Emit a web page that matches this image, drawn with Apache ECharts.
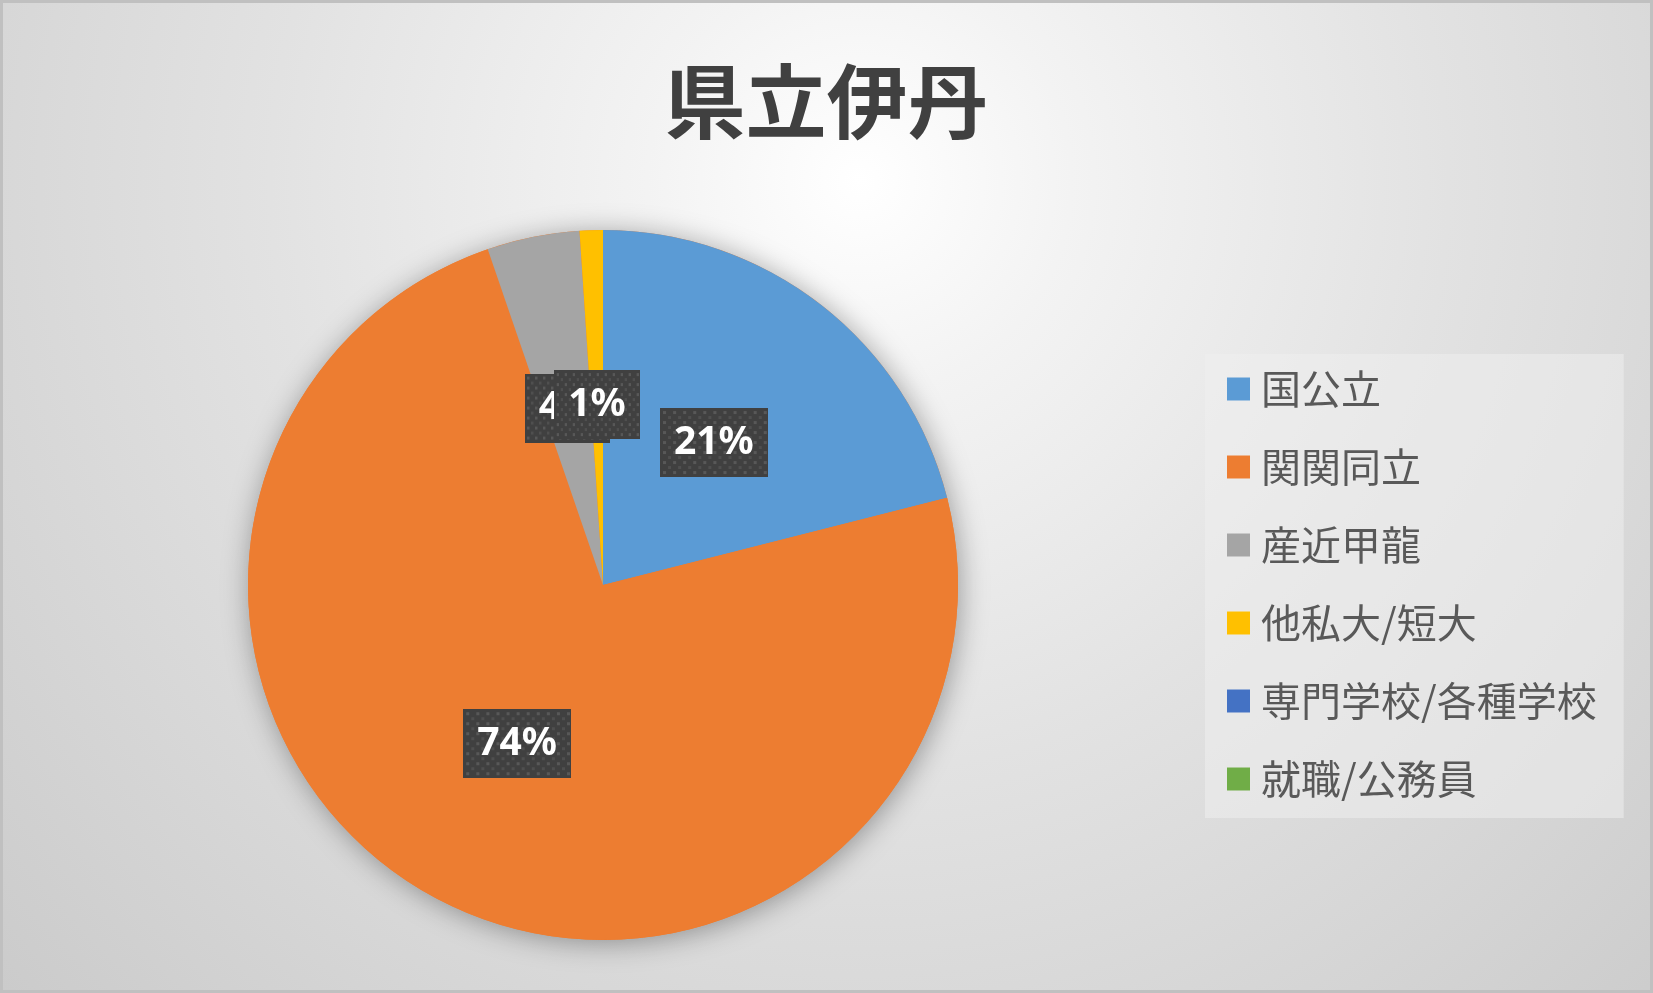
<!DOCTYPE html>
<html>
<head>
<meta charset="utf-8">
<script src="https://cdn.jsdelivr.net/npm/echarts@6/dist/echarts.min.js"></script>
<style>
html,body{margin:0;padding:0;width:1653px;height:993px;overflow:hidden;}
#chart{width:1653px;height:993px;box-sizing:border-box;border:3px solid #c0c0c0;
background:radial-gradient(circle farthest-corner at 52% 18%, #ffffff 0%, #f3f3f3 18%, #e2e2e2 50%, #cbcbcb 100%);}
</style>
</head>
<body>
<div id="chart"></div>
<script>
const titleText = '県立伊丹';
const categories = ['国公立', '関関同立', '産近甲龍', '他私大/短大', '専門学校/各種学校', '就職/公務員'];
const values = [20, 70, 4, 1, 0, 0];
const colors = ['#5B9BD5', '#ED7D31', '#A5A5A5', '#FFC000', '#4472C4', '#70AD47'];

function makePattern(w, h) {
  const c = document.createElement('canvas');
  c.width = w; c.height = h;
  const ctx = c.getContext('2d');
  ctx.fillStyle = '#404040';
  ctx.fillRect(0, 0, w, h);
  let row = 0;
  for (let y = 3; y < h - 1; y += 5, row++) {
    const off = (row % 2) ? 5 : 0;
    ctx.fillStyle = (row % 2) ? '#4f4f4f' : '#585858';
    for (let x = 3 + off; x < w - 1; x += 10) {
      ctx.fillRect(x, y, 3, 3);
    }
  }
  return c;
}
const pattern = makePattern(107, 69);

const total = values.reduce((a, b) => a + b, 0);
const chart = echarts.init(document.getElementById('chart'), null, {renderer: 'canvas'});
const center = [600, 582];
const radius = 355;

chart.setOption({
  backgroundColor: 'transparent',
  color: colors,
  title: {
    text: titleText,
    left: 'center',
    top: 58,
    padding: 0,
    textStyle: {fontSize: 81, fontWeight: 'bold', color: '#404040', fontFamily: 'Noto Sans CJK JP'}
  },
  legend: {
    orient: 'vertical',
    left: 1202,
    top: 351,
    data: categories,
    backgroundColor: 'rgba(238,238,238,0.55)',
    padding: [13, 27, 17, 22],
    itemWidth: 23,
    itemHeight: 23,
    itemGap: 34,
    icon: 'rect',
    selectedMode: false,
    textStyle: {fontSize: 40, lineHeight: 44, color: '#595959', fontFamily: 'Noto Sans CJK JP', padding: [0, 0, 0, 6]}
  },
  series: [
    {
      type: 'pie',
      silent: true,
      center: center,
      radius: radius,
      z: 1,
      label: {show: false},
      labelLine: {show: false},
      itemStyle: {color: '#ED7D31', shadowBlur: 28, shadowColor: 'rgba(0,0,0,0.35)', shadowOffsetX: 2, shadowOffsetY: 3},
      data: [{name: '_', value: total}]
    },
    {
      type: 'pie',
      center: center,
      radius: radius,
      z: 2,
      startAngle: 90,
      clockwise: true,
      percentPrecision: 0,
      animation: false,
      avoidLabelOverlap: false,
      minShowLabelAngle: 0,
      labelLayout: {hideOverlap: false},
      itemStyle: {borderWidth: 0},
      label: {
        show: true,
        position: 'inside',
        formatter: '{d}%',
        color: '#ffffff',
        fontSize: 39,
        fontWeight: 'bold',
        fontFamily: 'Noto Sans',
        lineHeight: 41,
        padding: [14, 14],
        backgroundColor: {image: pattern},
        shadowBlur: 8,
        shadowColor: 'rgba(0,0,0,0.6)',
        shadowOffsetX: 5,
        shadowOffsetY: 6
      },
      labelLine: {show: false},
      emphasis: {disabled: true},
      data: categories.map((n, i) => ({name: n, value: values[i], label: {show: values[i] > 0}}))
    }
  ]
});
</script>
</body>
</html>
